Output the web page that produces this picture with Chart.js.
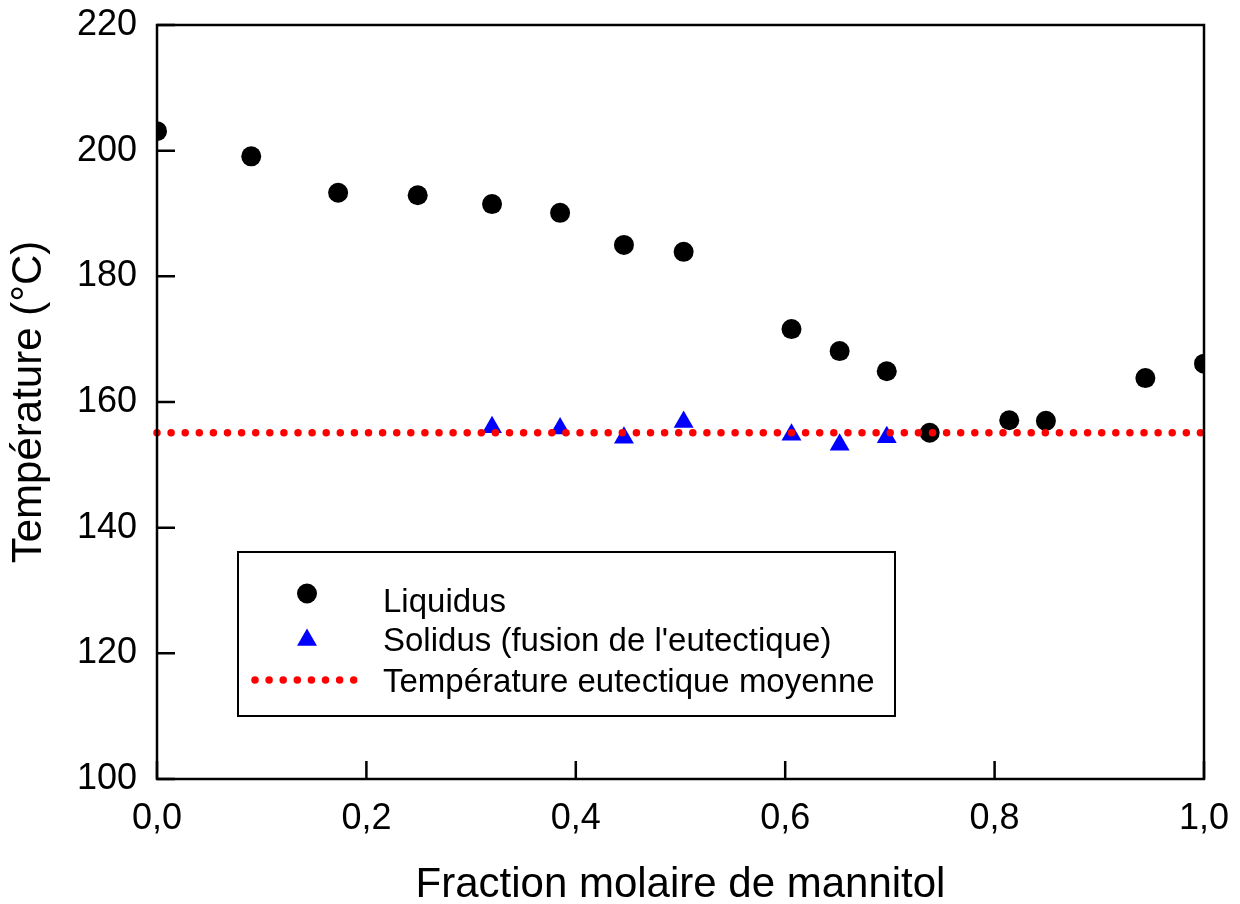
<!DOCTYPE html>
<html>
<head>
<meta charset="utf-8">
<script src="https://cdn.jsdelivr.net/npm/chart.js@4"></script>
<style>
html,body{margin:0;padding:0;background:#fff;}
canvas{display:block;}
</style>
</head>
<body>
<canvas id="c" width="1240" height="904"></canvas>
<script>
// ---- data ----
const xLiquidus = [0.0, 0.090, 0.173, 0.249, 0.320, 0.385, 0.446, 0.503, 0.606, 0.652, 0.697, 0.738, 0.814, 0.849, 0.944, 1.0];
const tLiquidus = [203.1, 199.1, 193.3, 192.9, 191.5, 190.1, 185.0, 183.9, 171.6, 168.1, 164.9, 155.1, 157.1, 157.0, 163.8, 166.1];
const xSolidus = [0.320, 0.385, 0.446, 0.503, 0.606, 0.652, 0.697];
const tSolidus = [156.0, 155.8, 154.3, 156.8, 154.8, 153.2, 154.4];
const xEutectic = [0.0, 1.0];
const tEutectic = [155.1, 155.1];
const xTicks = [0, 0.2, 0.4, 0.6, 0.8, 1.0];
const yTicks = [100, 120, 140, 160, 180, 200, 220];
const legendLabels = ['Liquidus', "Solidus (fusion de l'eutectique)", 'Température eutectique moyenne'];
const xTitle = 'Fraction molaire de mannitol';
const yTitle = 'Température (°C)';

const FONT = 'Arial, "Liberation Sans", sans-serif';
const zip = (xs, ys) => xs.map((x, i) => ({x: x, y: ys[i]}));

const framePlugin = {
  id: 'frame',
  afterDraw(chart) {
    const ctx = chart.ctx;
    const a = chart.chartArea;
    const xs = chart.scales.x, ys = chart.scales.y;
    ctx.save();
    ctx.strokeStyle = '#000';
    ctx.lineWidth = 2.5;
    ctx.lineCap = 'butt';
    ctx.strokeRect(a.left, a.top, a.right - a.left, a.bottom - a.top);
    const tl = 18;
    ctx.beginPath();
    xs.ticks.forEach(t => {
      const px = xs.getPixelForValue(t.value);
      ctx.moveTo(px, a.bottom); ctx.lineTo(px, a.bottom - tl);
    });
    ys.ticks.forEach(t => {
      const py = ys.getPixelForValue(t.value);
      ctx.moveTo(a.left, py); ctx.lineTo(a.left + tl, py);
    });
    ctx.stroke();

    // legend box
    const bx = 238, by = 552, bw = 657, bh = 164;
    ctx.fillStyle = '#fff';
    ctx.fillRect(bx, by, bw, bh);
    ctx.lineWidth = 2;
    ctx.strokeRect(bx, by, bw, bh);
    const ds = chart.data.datasets;
    // liquidus marker
    ctx.fillStyle = ds[0].backgroundColor;
    ctx.beginPath(); ctx.arc(307, 593.5, ds[0].pointRadius, 0, Math.PI * 2); ctx.fill();
    // solidus marker (triangle like Chart.js)
    const r = ds[1].pointRadius, cx = 307, cy = 640;
    ctx.fillStyle = ds[1].backgroundColor;
    ctx.beginPath();
    ctx.moveTo(cx, cy - r);
    ctx.lineTo(cx + r * Math.sin(Math.PI / 3), cy + r / 2);
    ctx.lineTo(cx - r * Math.sin(Math.PI / 3), cy + r / 2);
    ctx.closePath(); ctx.fill();
    // eutectic dotted line
    ctx.strokeStyle = ds[2].borderColor;
    ctx.lineWidth = ds[2].borderWidth;
    ctx.lineCap = 'round';
    ctx.setLineDash(ds[2].borderDash);
    ctx.beginPath(); ctx.moveTo(255, 680); ctx.lineTo(356, 680); ctx.stroke();
    ctx.setLineDash([]);
    // texts
    ctx.fillStyle = '#000';
    ctx.font = '33px ' + FONT;
    ctx.textAlign = 'left';
    ctx.textBaseline = 'alphabetic';
    ctx.fillText(legendLabels[0], 383, 611.5);
    ctx.fillText(legendLabels[1], 383, 651);
    ctx.fillText(legendLabels[2], 383, 691.5);
    ctx.restore();
  }
};

new Chart(document.getElementById('c'), {
  type: 'scatter',
  data: {
    datasets: [
      {
        label: legendLabels[0],
        data: zip(xLiquidus, tLiquidus),
        pointStyle: 'circle',
        pointRadius: 10,
        pointHoverRadius: 10,
        backgroundColor: '#000000',
        borderColor: '#000000',
        borderWidth: 0,
        showLine: false,
        order: 2
      },
      {
        label: legendLabels[1],
        data: zip(xSolidus, tSolidus),
        pointStyle: 'triangle',
        pointRadius: 11.5,
        pointHoverRadius: 11.5,
        backgroundColor: '#0000ff',
        borderColor: '#0000ff',
        borderWidth: 0,
        showLine: false,
        order: 1
      },
      {
        label: legendLabels[2],
        data: zip(xEutectic, tEutectic),
        showLine: true,
        pointRadius: 0,
        borderColor: '#ff0000',
        borderWidth: 7.5,
        borderDash: [0, 14.1],
        borderCapStyle: 'round',
        fill: false,
        clip: false,
        order: 0
      }
    ]
  },
  options: {
    responsive: false,
    animation: false,
    events: [],
    layout: { padding: { top: 25, right: 36, left: 0, bottom: 0 } },
    plugins: { legend: { display: false }, tooltip: { enabled: false } },
    scales: {
      x: {
        type: 'linear',
        min: 0, max: 1,
        afterFit(s) { s.height = 125; s.paddingLeft = 0; s.paddingRight = 0; },
        afterBuildTicks(s) { s.ticks = xTicks.map(v => ({value: v})); },
        grid: { display: false, drawTicks: false },
        border: { display: false },
        ticks: {
          padding: 18,
          color: '#000',
          font: { family: FONT, size: 36 },
          maxRotation: 0,
          callback: v => v.toFixed(1).replace('.', ',')
        },
        title: {
          display: true, text: xTitle, color: '#000',
          font: { family: FONT, size: 42, lineHeight: 1.0 },
          padding: { top: 0, bottom: -2 }
        }
      },
      y: {
        type: 'linear',
        min: 100, max: 220,
        afterFit(s) { s.width = 157; s.paddingTop = 0; s.paddingBottom = 0; },
        afterBuildTicks(s) { s.ticks = yTicks.map(v => ({value: v})); },
        grid: { display: false, drawTicks: false },
        border: { display: false },
        ticks: {
          padding: 20,
          color: '#000',
          font: { family: FONT, size: 36 },
          callback: v => String(v)
        },
        title: {
          display: true, text: yTitle, color: '#000',
          font: { family: FONT, size: 42, lineHeight: 1.0 },
          padding: { top: 8, bottom: 0 }
        }
      }
    }
  },
  plugins: [framePlugin]
});
</script>
</body>
</html>
